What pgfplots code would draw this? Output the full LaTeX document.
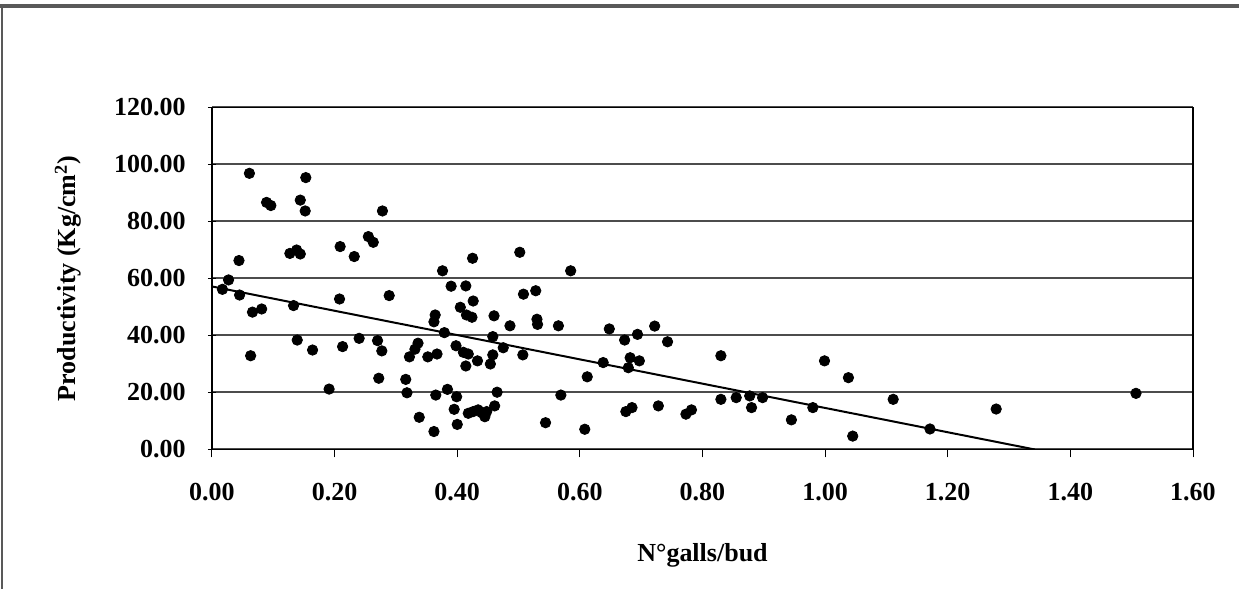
\documentclass[border=0pt]{standalone}
\usepackage{fontspec}
\setmainfont{Liberation Serif}
\usepackage{pgfplots}
\usepackage{pgfplotstable}
\pgfplotsset{compat=1.18}
\pgfplotstableread{
x y
0.017 56.2
0.027 59.5
0.044 66.3
0.045 54.2
0.061 96.9
0.066 48.2
0.063 32.9
0.081 49.3
0.089 86.7
0.096 85.6
0.127 68.8
0.133 50.5
0.138 70.0
0.144 68.6
0.144 87.5
0.139 38.4
0.152 83.7
0.153 95.4
0.164 34.9
0.191 21.2
0.208 52.8
0.209 71.2
0.213 36.1
0.232 67.7
0.240 39.0
0.255 74.7
0.263 72.7
0.270 38.2
0.272 25.0
0.277 34.6
0.278 83.7
0.289 54.0
0.316 24.6
0.318 19.9
0.322 32.5
0.331 35.2
0.336 37.3
0.338 11.3
0.352 32.5
0.362 44.8
0.362 6.3
0.364 47.2
0.365 19.1
0.367 33.5
0.376 62.7
0.379 41.0
0.384 21.1
0.390 57.3
0.395 14.1
0.398 36.4
0.399 18.5
0.400 8.8
0.405 49.9
0.410 34.1
0.414 57.4
0.414 29.3
0.415 47.2
0.418 33.5
0.418 12.7
0.424 46.4
0.425 67.1
0.426 52.1
0.426 13.3
0.433 31.1
0.434 13.9
0.440 12.9
0.445 11.5
0.448 13.3
0.454 30.0
0.458 33.2
0.458 39.6
0.460 46.9
0.461 15.3
0.465 20.1
0.475 35.7
0.486 43.4
0.502 69.2
0.507 33.2
0.508 54.5
0.528 55.7
0.530 45.7
0.531 43.9
0.544 9.4
0.565 43.4
0.569 19.1
0.585 62.7
0.608 7.1
0.612 25.5
0.638 30.5
0.648 42.3
0.673 38.4
0.675 13.3
0.679 28.7
0.682 32.2
0.685 14.7
0.694 40.4
0.697 31.1
0.722 43.3
0.728 15.3
0.743 37.8
0.773 12.4
0.782 13.9
0.830 32.9
0.830 17.6
0.855 18.2
0.877 18.8
0.880 14.7
0.898 18.2
0.945 10.4
0.980 14.7
0.999 31.1
1.038 25.2
1.045 4.7
1.111 17.6
1.171 7.2
1.279 14.2
1.507 19.7
}\datatable
\begin{document}
\begin{tikzpicture}
\useasboundingbox (0,0) rectangle (619.5pt,294.5pt);
\fill[white] (0,0) rectangle (619.5pt,294.5pt);
\draw[line width=2pt, black!65] (0,291.5pt) -- (619.5pt,291.5pt);
\draw[line width=0.7pt, black!65] (1pt,0) -- (1pt,292pt);
\begin{axis}[
  at={(106pt,69.75pt)}, anchor=south west,
  scale only axis, width=490.5pt, height=171pt,
  xmin=0, xmax=1.6, ymin=0, ymax=120,
  xtick={0,0.2,...,1.6}, ytick={0,20,...,120},
  xtick pos=bottom, ytick pos=left,
  xtick align=outside, ytick align=center,
  major tick length=4pt,
  tick style={black, line width=0.5pt},
  axis line style={black, line width=0.6pt},
  ymajorgrids,
  major grid style={black!70, line width=1pt},
  /pgf/number format/.cd, fixed, fixed zerofill, precision=2, assume math mode=true,
  /pgfplots/.cd,
  ticklabel style={font=\fontsize{13}{15}\selectfont\bfseries},
  label style={font=\fontsize{13}{15}\selectfont\bfseries},
  xlabel={N°galls/bud},
  ylabel={Productivity (Kg/cm$^{\mathbf{2}}$)},
  xlabel style={at={([yshift=-53pt]axis description cs:0.5,0)}, anchor=center},
  ylabel style={at={([xshift=-72pt]axis description cs:0,0.5)}, anchor=center},
  every x tick label/.append style={anchor=center, yshift=-17.5pt},
  every y tick label/.append style={inner sep=0pt, xshift=-11pt},
]
\addplot[only marks, mark=*, mark size=2.6pt, black] table[x=x,y=y] {\datatable};
\addplot[black, line width=1pt, no marks] coordinates {(0,57.2) (1.342,0)};
\end{axis}
\end{tikzpicture}
\end{document}
